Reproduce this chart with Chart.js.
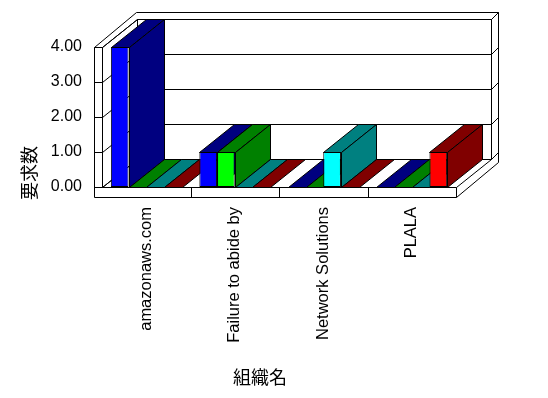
<!DOCTYPE html>
<html>
<head>
<meta charset="utf-8">
<script src="https://cdn.jsdelivr.net/npm/chart.js@4/dist/chart.umd.min.js"></script>
<style>
  html, body { margin: 0; padding: 0; background: #fff; }
  canvas { display: block; }
</style>
</head>
<body>
<canvas id="grafico" width="548" height="398"></canvas>
<script>
// dados
var categorias = ['amazonaws.com', 'Failure to abide by', 'Network Solutions', 'PLALA'];
var serieAzul = [4, 1, 0, 0];
var serieVerde = [0, 1, 0, 0];
var serieCiano = [0, 0, 1, 0];
var serieVermelha = [0, 0, 0, 1];
var ticksY = [0, 1, 2, 3, 4];
var tituloX = '組織名';
var tituloY = '要求数';

var corFrente = ['#0000ff', '#00ff00', '#00ffff', '#ff0000'];
var corFundo = ['#000080', '#008000', '#008080', '#800000'];

// profundidade do efeito 3D
var DX = 35, DY = -28.5;
var OX = 7, OY = -6.5;   // espessura da parede do fundo
var PAREDE = 8, PISO = 10;

function px(v) { return Math.round(v) + 0.5; }

function linha(ctx, x1, y1, x2, y2) {
    ctx.beginPath();
    ctx.moveTo(px(x1), px(y1));
    ctx.lineTo(px(x2), px(y2));
    ctx.stroke();
}

function poligono(ctx, pts, fill) {
    ctx.beginPath();
    ctx.moveTo(px(pts[0][0]), px(pts[0][1]));
    for (var i = 1; i < pts.length; i++) ctx.lineTo(px(pts[i][0]), px(pts[i][1]));
    ctx.closePath();
    ctx.fillStyle = fill;
    ctx.fill();
    ctx.stroke();
}

var caixa3d = {
    id: 'caixa3d',
    beforeDatasetsDraw: function (chart) {
        var ctx = chart.ctx;
        var a = chart.chartArea;
        var L = a.left, R = a.right, T = a.top, B = a.bottom;
        var y = chart.scales.y;
        ctx.save();
        ctx.strokeStyle = '#000';
        ctx.lineWidth = 1;

        // frente da parede esquerda e do piso
        linha(ctx, L - PAREDE, T, L - PAREDE, B + PISO);
        linha(ctx, L, T, L, B);
        linha(ctx, L - PAREDE, T, L, T);
        linha(ctx, L - PAREDE, B + PISO, R, B + PISO);
        linha(ctx, L, B, R, B);
        linha(ctx, R, B, R, B + PISO);
        var w = (R - L) / categorias.length;
        for (var k = 1; k < categorias.length; k++) {
            linha(ctx, L + k * w, B, L + k * w, B + PISO);
        }

        // diagonais
        linha(ctx, L - PAREDE, T, L - PAREDE + DX + OX, T + DY + OY);
        linha(ctx, L, T, L + DX, T + DY);
        linha(ctx, L, B, L + DX, B + DY);
        linha(ctx, R, B, R + DX, B + DY);
        linha(ctx, R, B + PISO, R + DX + OX, B + PISO + DY + OY);

        // parede do fundo
        linha(ctx, L + DX, T + DY, R + DX, T + DY);
        linha(ctx, L + DX, T + DY, L + DX, B + DY);
        linha(ctx, R + DX, T + DY, R + DX, B + DY);
        linha(ctx, L - PAREDE + DX + OX, T + DY + OY, R + DX + OX, T + DY + OY);
        linha(ctx, R + DX + OX, T + DY + OY, R + DX + OX, B + PISO + DY + OY);
        linha(ctx, R + DX, T + DY, R + DX + OX, T + DY + OY);

        // linhas de grade
        ticksY.forEach(function (v) {
            var gy = y.getPixelForValue(v);
            linha(ctx, L + DX, gy + DY, R + DX, gy + DY);
            linha(ctx, R + DX, gy + DY, R + DX + OX, gy + DY + OY);
            linha(ctx, L, gy, L + DX, gy + DY);
            linha(ctx, L - PAREDE, gy, L, gy);
        });

        // topo e lateral das barras, da esquerda para a direita
        var barras = [];
        chart.data.datasets.forEach(function (ds, i) {
            chart.getDatasetMeta(i).data.forEach(function (el) {
                var p = el.getProps(['x', 'y', 'base', 'width'], true);
                barras.push({ p: p, cor: corFundo[i] });
            });
        });
        barras.sort(function (a, b) { return a.p.x - b.p.x; });
        barras.forEach(function (b) {
            var x0 = b.p.x - b.p.width / 2, x1 = b.p.x + b.p.width / 2;
            var yt = b.p.y, yb = b.p.base;
            poligono(ctx, [[x0, yt], [x1, yt], [x1 + DX, yt + DY], [x0 + DX, yt + DY]], b.cor);
            if (yb - yt > 0.5) {
                poligono(ctx, [[x1, yt], [x1, yb], [x1 + DX, yb + DY], [x1 + DX, yt + DY]], b.cor);
            }
        });
        ctx.restore();
    },
    afterDraw: function (chart) {
        var ctx = chart.ctx;
        ctx.save();
        ctx.fillStyle = '#000';
        ctx.font = '18px "Noto Sans CJK JP"';
        ctx.textAlign = 'center';
        ctx.textBaseline = 'middle';
        ctx.fillText(tituloX, 260, 377);
        ctx.translate(29, 173);
        ctx.rotate(-Math.PI / 2);
        ctx.fillText(tituloY, 0, 0);
        ctx.restore();
    }
};

var ctx = document.getElementById('grafico').getContext('2d');
var fonte = { family: '"Liberation Sans", Arial, sans-serif', size: 16 };

new Chart(ctx, {
    type: 'bar',
    data: {
        labels: categorias,
        datasets: [
            { label: 'A', data: serieAzul },
            { label: 'B', data: serieVerde },
            { label: 'C', data: serieCiano },
            { label: 'D', data: serieVermelha }
        ].map(function (ds, i) {
            ds.backgroundColor = corFrente[i];
            ds.borderColor = '#000';
            ds.borderWidth = 1;
            ds.borderSkipped = false;
            ds.categoryPercentage = 0.8;
            ds.barPercentage = 1.0;
            return ds;
        })
    },
    options: {
        responsive: false,
        animation: false,
        devicePixelRatio: 1,
        layout: { padding: { top: 47, right: 92, left: 0, bottom: 0 } },
        plugins: {
            legend: { display: false },
            tooltip: { enabled: false }
        },
        scales: {
            x: {
                grid: { display: false, drawTicks: false },
                border: { display: false },
                ticks: { color: '#000', font: { family: fonte.family, size: 16.5 }, minRotation: 90, maxRotation: 90, padding: 20, autoSkip: false },
                afterFit: function (s) { s.height = 211; }
            },
            y: {
                min: 0,
                max: 4,
                grid: { display: false, drawTicks: false },
                border: { display: false },
                ticks: {
                    stepSize: 1,
                    color: '#000',
                    font: fonte,
                    padding: 20,
                    callback: function (v) { return v.toFixed(2); }
                },
                afterFit: function (s) { s.width = 102; }
            }
        }
    },
    plugins: [caixa3d]
});
</script>
</body>
</html>
